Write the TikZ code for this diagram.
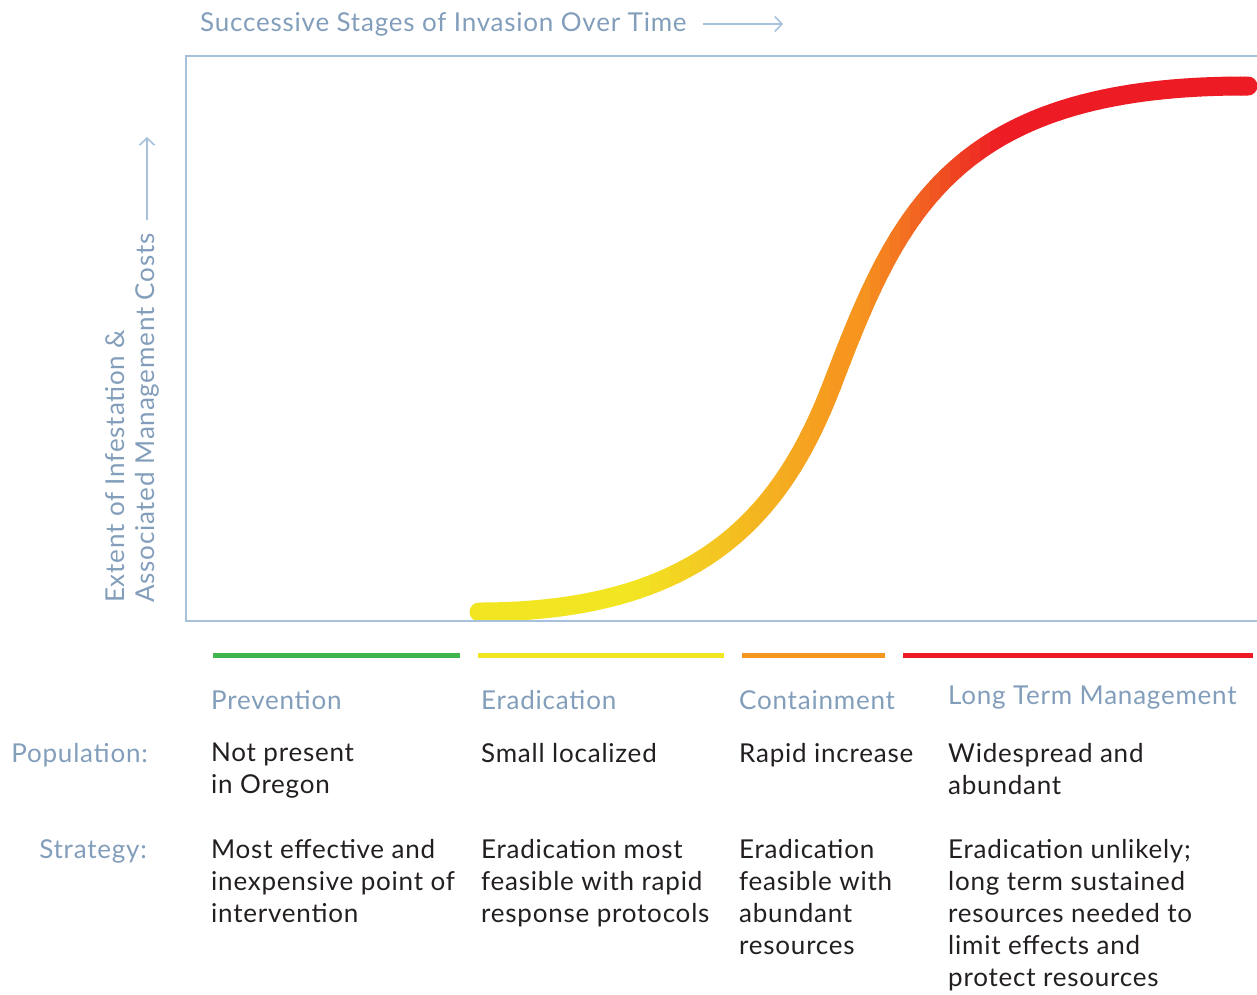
\documentclass[tikz,border=0pt]{standalone}
\usepackage{fontspec}
\setmainfont[LetterSpace=3]{Lato}
\usetikzlibrary{positioning,arrows.meta}

\definecolor{ejegris}{HTML}{A7C1DB}
\definecolor{textoazul}{HTML}{829EBB}
\definecolor{verde}{HTML}{40B54B}
\definecolor{amarillo}{HTML}{F2E622}
\definecolor{naranja}{HTML}{F6961F}
\definecolor{rojo}{HTML}{ED1C24}
\definecolor{negro}{HTML}{231F20}

\tikzset{
  etiqueta/.style={text=textoazul, inner sep=0pt, font=\fontsize{26}{32}\selectfont},
  cuerpo/.style={text=negro, inner sep=0pt, align=left, anchor=north west, font=\fontsize{26}{32}\selectfont},
  barra/.style={line width=5pt},
  flecha/.style={ejegris, line width=1.6pt, -{Straight Barb[length=7pt,width=15pt]}},
}

\begin{document}
\begin{tikzpicture}[x=1pt,y=-1pt]
    \useasboundingbox (0,0) rectangle (1257,994);

    % Curva (degradado por franjas)
    \foreach \xa in {460,470,...,1260} {
        \pgfmathsetmacro{\pa}{min(100,max(0,(\xa+5-630)/2.1))}
        \pgfmathsetmacro{\pb}{min(100,max(0,(\xa+5-860)/1.4))}
        \colorlet{tramo}{naranja!\pa!amarillo}
        \colorlet{tramo}{rojo!\pb!tramo}
        \begin{scope}
            \clip (\xa,0) rectangle ++(10.6,700);
            \draw[tramo, line width=19pt, line cap=round]
                (479,612) .. controls (700,612) and (782,515) .. (832,385)
                          .. controls (897,216) and (950,85) .. (1248,86);
        \end{scope}
    }

    % Marco
    \draw[ejegris, line width=2.4pt] (1257,56) -- (186,56) -- (186,621) -- (1257,621);

    % Titulo eje x
    \node[etiqueta, anchor=west] (titulo) at (200,24) {Successive Stages of Invasion Over Time};
    \coordinate (finx) at (783,24);
    \draw[flecha] ([xshift=16pt]titulo.east) -- (finx);

    % Titulo eje y
    \node[etiqueta, rotate=90, anchor=west] (ejeya) at (115,603) {Extent of Infestation \&};
    \node[etiqueta, rotate=90, anchor=west] (ejeyb) at (147,603) {Associated Management Costs};
    \coordinate (finy) at (147,137);
    \draw[flecha] ([yshift=13pt]ejeyb.east) -- (finy);

    % Barras de etapas
    \draw[barra, verde]    (213,655) -- (460,655);
    \draw[barra, amarillo] (478,655) -- (724,655);
    \draw[barra, naranja]  (742,655) -- (885,655);
    \draw[barra, rojo]     (903,655) -- (1253,655);

    % Etapas
    \node[etiqueta, anchor=west] (prevencion) at (211,700) {Prevention};
    \node[etiqueta, anchor=west] (erradicacion) at (481,700) {Eradication};
    \node[etiqueta, anchor=west] (contencion) at (739,700) {Containment};
    \node[etiqueta, anchor=west] (manejo) at (948,698) {Long Term Management};

    % Poblacion
    \node[etiqueta, anchor=east] (poblacion) at (148,755) {Population:};
    \node[cuerpo] (pobA) at (211,743) {Not present\\in Oregon};
    \node[cuerpo] (pobB) at (481,743) {Small localized};
    \node[cuerpo] (pobC) at (739,743) {Rapid increase};
    \node[cuerpo] (pobD) at (948,743) {Widespread and\\abundant};

    % Estrategia
    \node[etiqueta, anchor=east] (estrategia) at (147,851) {Strategy:};
    \node[cuerpo] (estA) at (211,839) {Most effective and\\inexpensive point of\\intervention};
    \node[cuerpo] (estB) at (481,839) {Eradication most\\feasible with rapid\\response protocols};
    \node[cuerpo] (estC) at (739,839) {Eradication\\feasible with\\abundant\\resources};
    \node[cuerpo] (estD) at (948,839) {Eradication unlikely;\\long term sustained\\resources needed to\\limit effects and\\protect resources};
\end{tikzpicture}
\end{document}
